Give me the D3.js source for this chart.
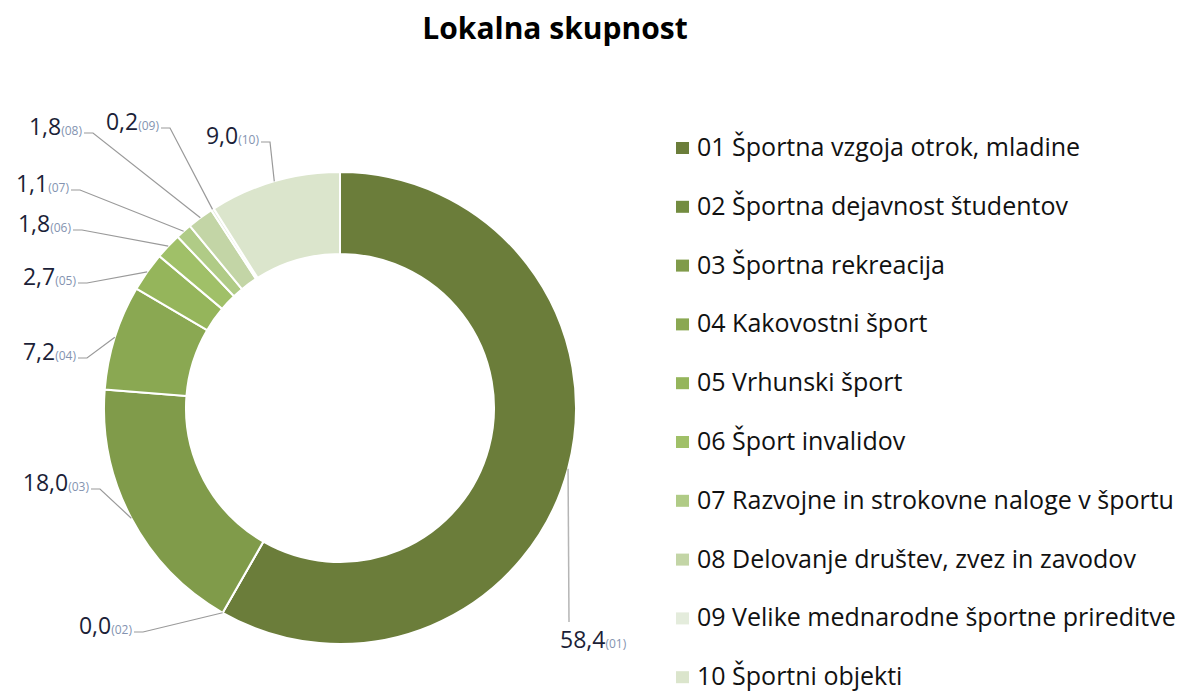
<!DOCTYPE html>
<html>
<head>
<meta charset="utf-8">
<script src="https://cdn.jsdelivr.net/npm/d3@7"></script>
<style>
  body { margin: 0; background: #fff; }
  svg { display: block; }
</style>
</head>
<body>
<div id="chart"></div>
<script>
// data
var codes = ["01", "02", "03", "04", "05", "06", "07", "08", "09", "10"];
var names = [
  "Športna vzgoja otrok, mladine",
  "Športna dejavnost študentov",
  "Športna rekreacija",
  "Kakovostni šport",
  "Vrhunski šport",
  "Šport invalidov",
  "Razvojne in strokovne naloge v športu",
  "Delovanje društev, zvez in zavodov",
  "Velike mednarodne športne prireditve",
  "Športni objekti"
];
var shares = [58.4, 0.0, 18.0, 7.2, 2.7, 1.8, 1.1, 1.8, 0.2, 9.0];
var colors = ["#6b7d3a", "#738c40", "#809b4a", "#8aa852", "#95b55b", "#a0c068", "#b0cb86", "#c3d5a6", "#e4ecdc", "#dbe5cc"];

// label layout: line elbow (ex, ey) where the text ends
var labelPos = [
  {ex: 569, ey: 622, below: true},
  {ex: 143, ey: 632},
  {ex: 100, ey: 489},
  {ex: 87, ey: 358},
  {ex: 87, ey: 283},
  {ex: 82, ey: 230},
  {ex: 80, ey: 190},
  {ex: 93, ey: 133},
  {ex: 170, ey: 128},
  {ex: 270, ey: 142}
];

var svgWidth = 1187, svgHeight = 693;
var cx = 340, cy = 408, outerR = 236, innerR = 154;

var svg = d3.select("#chart").append("svg")
  .attr("width", svgWidth)
  .attr("height", svgHeight);

svg.append("text")
  .attr("x", 555)
  .attr("y", 39)
  .attr("text-anchor", "middle")
  .attr("font-family", "'Open Sans', sans-serif")
  .attr("font-weight", "bold")
  .attr("font-size", 30)
  .attr("fill", "#000")
  .text("Lokalna skupnost");

var rows = codes.map(function (c, i) {
  return {code: c, name: names[i], value: shares[i], color: colors[i], lab: labelPos[i]};
});

var pie = d3.pie().sort(null).value(d => d.value);
var arcs = pie(rows);

var arc = d3.arc().innerRadius(innerR).outerRadius(outerR);

var donut = svg.append("g").attr("transform", `translate(${cx}, ${cy})`);

donut.selectAll("path")
  .data(arcs)
  .enter()
  .append("path")
  .attr("d", arc)
  .attr("fill", d => d.data.color)
  .attr("stroke", "#fff")
  .attr("stroke-width", 2);

// leader lines + labels
var labels = svg.append("g");
arcs.forEach(function (a) {
  var mid = (a.startAngle + a.endAngle) / 2;
  var px = cx + outerR * Math.sin(mid);
  var py = cy - outerR * Math.cos(mid);
  var lab = a.data.lab;
  var valText = d3.format(".1f")(a.data.value).replace(".", ",");

  if (lab.below) {
    labels.append("path")
      .attr("d", `M${px},${py}L${lab.ex},${lab.ey}`)
      .attr("fill", "none")
      .attr("stroke", "#b5b5b5")
      .attr("stroke-width", 1.5);
    var t = labels.append("text")
      .attr("x", lab.ex - 9)
      .attr("y", lab.ey + 26)
      .attr("font-family", "'Open Sans', sans-serif");
    t.append("tspan").attr("font-size", 23).attr("fill", "#1c1f38").text(valText);
    t.append("tspan").attr("font-size", 12).attr("fill", "#8493b0").text(`(${a.data.code})`);
  } else {
    var tx = lab.ex - 11;
    labels.append("path")
      .attr("d", `M${tx + 2},${lab.ey}L${lab.ex},${lab.ey}L${px},${py}`)
      .attr("fill", "none")
      .attr("stroke", "#9a9a9a")
      .attr("stroke-width", 1.2);
    var t2 = labels.append("text")
      .attr("x", tx)
      .attr("y", lab.ey + 2)
      .attr("text-anchor", "end")
      .attr("font-family", "'Open Sans', sans-serif");
    t2.append("tspan").attr("font-size", 23).attr("fill", "#1c1f38").text(valText);
    t2.append("tspan").attr("font-size", 12).attr("fill", "#8493b0").text(`(${a.data.code})`);
  }
});

// legend
var legend = svg.append("g").attr("transform", "translate(676, 148)");
var item = legend.selectAll("g")
  .data(rows)
  .enter()
  .append("g")
  .attr("transform", (d, i) => `translate(0, ${i * 58.8})`);

item.append("rect")
  .attr("x", 0)
  .attr("y", -6)
  .attr("width", 13)
  .attr("height", 12)
  .attr("fill", d => d.color);

item.append("text")
  .attr("x", 21)
  .attr("y", 8)
  .attr("font-family", "'Open Sans', sans-serif")
  .attr("font-size", 25)
  .attr("fill", "#111")
  .text(d => `${d.code} ${d.name}`);
</script>
</body>
</html>
